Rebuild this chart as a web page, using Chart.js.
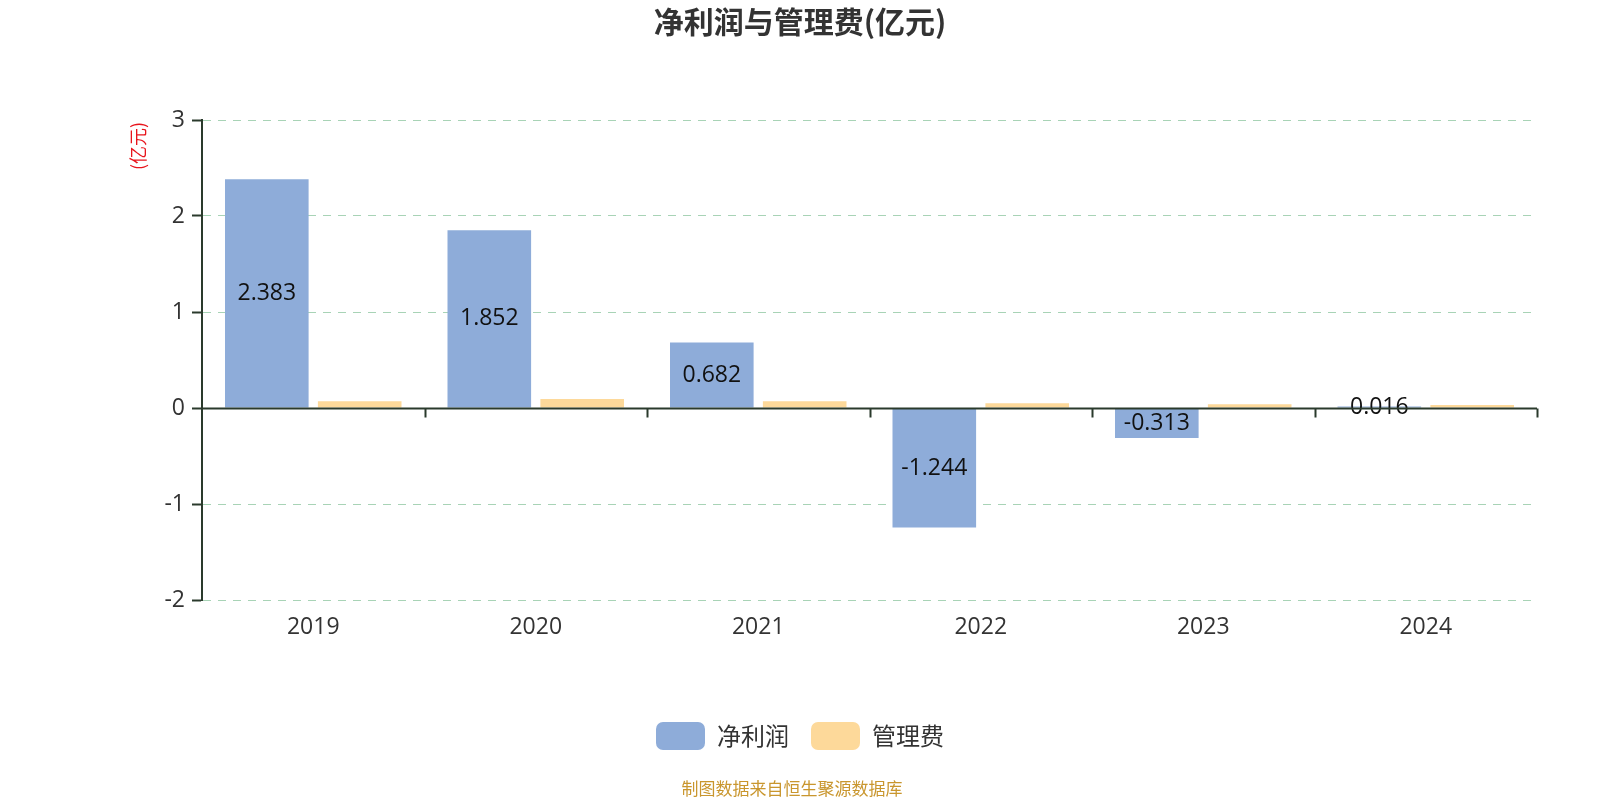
<!DOCTYPE html>
<html>
<head>
<meta charset="utf-8">
<script src="https://cdn.jsdelivr.net/npm/chart.js@4/dist/chart.umd.min.js"></script>
<style>
  html, body { margin: 0; padding: 0; background: #fff; }
  #wrap { width: 1600px; height: 800px; }
</style>
</head>
<body>
<div id="wrap"><canvas id="profitChart" width="1600" height="800"></canvas></div>
<script>
const years = ["2019", "2020", "2021", "2022", "2023", "2024"];
const netProfit = [2.383, 1.852, 0.682, -1.244, -0.313, 0.016];
const mgmtFee = [0.07, 0.095, 0.07, 0.05, 0.04, 0.03];
const yTicks = [-2, -1, 0, 1, 2, 3];

const FONT = '"Open Sans", "Noto Sans CJK SC", sans-serif';
const CJK = '"Noto Sans CJK SC", sans-serif';
const axisDark = '#2a3a2c';

// value labels in the middle of each net profit bar
const barLabels = {
    id: 'barLabels',
    afterDatasetsDraw(chart) {
        const ctx = chart.ctx;
        const meta = chart.getDatasetMeta(0);
        ctx.save();
        ctx.font = '23px ' + FONT;
        ctx.fillStyle = '#111';
        ctx.textAlign = 'center';
        ctx.textBaseline = 'middle';
        meta.data.forEach((bar, i) => {
            const mid = (bar.y + bar.base) / 2;
            ctx.fillText(netProfit[i].toString(), bar.x, mid);
        });
        ctx.restore();
    }
};

// x axis line sits on zero, plus unit label and source note
const extras = {
    id: 'extras',
    afterDatasetsDraw(chart) {
        const ctx = chart.ctx;
        const x = chart.scales.x;
        const y = chart.scales.y;
        const zero = Math.round(y.getPixelForValue(0)) + 0.5;
        ctx.save();
        ctx.strokeStyle = axisDark;
        ctx.lineWidth = 2;
        ctx.beginPath();
        ctx.moveTo(x.left, zero);
        ctx.lineTo(x.right, zero);
        const step = (x.right - x.left) / years.length;
        for (let i = 1; i <= years.length; i++) {
            const px = Math.round(x.left + step * i) + 0.5;
            ctx.moveTo(px, zero);
            ctx.lineTo(px, zero + 9);
        }
        ctx.stroke();
        ctx.restore();
    },
    afterDraw(chart) {
        const ctx = chart.ctx;
        ctx.save();
        ctx.fillStyle = '#e8141c';
        ctx.font = '18px ' + CJK;
        ctx.textAlign = 'center';
        ctx.textBaseline = 'middle';
        ctx.translate(138, 146);
        ctx.rotate(-Math.PI / 2);
        ctx.fillText('(亿元)', 0, 0);
        ctx.restore();

        ctx.save();
        ctx.fillStyle = '#c9962e';
        ctx.font = '17px ' + CJK;
        ctx.textAlign = 'center';
        ctx.textBaseline = 'middle';
        ctx.fillText('制图数据来自恒生聚源数据库', 792, 789);
        ctx.restore();
    }
};

new Chart(document.getElementById('profitChart').getContext('2d'), {
    type: 'bar',
    data: {
        labels: years,
        datasets: [{
            label: '净利润',
            data: netProfit,
            backgroundColor: '#8eacd9',
            borderWidth: 0,
            categoryPercentage: 0.835,
            barPercentage: 0.9
        }, {
            label: '管理费',
            data: mgmtFee,
            backgroundColor: '#fdd99a',
            borderWidth: 0,
            categoryPercentage: 0.835,
            barPercentage: 0.9
        }]
    },
    options: {
        responsive: false,
        animation: false,
        layout: { padding: { left: 0, right: 0, top: 0, bottom: 40 } },
        plugins: {
            title: {
                display: true,
                text: '净利润与管理费(亿元)',
                color: '#333',
                font: { family: CJK, size: 30, weight: 'bold' },
                padding: { top: 4, bottom: 80 }
            },
            legend: {
                position: 'bottom',
                labels: {
                    boxWidth: 49,
                    boxHeight: 28,
                    useBorderRadius: true,
                    borderRadius: 7,
                    padding: 22,
                    color: '#333',
                    font: { family: CJK, size: 24 }
                }
            },
            tooltip: { enabled: false }
        },
        scales: {
            x: {
                grid: { display: false },
                border: { display: false },
                ticks: { color: '#333', font: { family: FONT, size: 23 }, padding: 6 },
                afterFit(axis) { axis.height = 100; }
            },
            y: {
                min: -2,
                max: 3,
                afterBuildTicks(axis) { axis.ticks = yTicks.map(v => ({ value: v })); },
                grid: {
                    color: '#a8d3b6',
                    lineWidth: 1,
                    tickColor: axisDark,
                    tickLength: 10,
                    tickBorderDash: [],
                    tickWidth: 2
                },
                border: { display: true, color: axisDark, width: 2, dash: [8, 7] },
                ticks: { color: '#333', font: { family: FONT, size: 23 }, padding: 7 },
                afterFit(axis) { axis.width = 202; }
            },
            pad: {
                position: 'right',
                display: true,
                grid: { display: false },
                border: { display: false },
                ticks: { display: false },
                afterFit(axis) { axis.width = 63; }
            }
        }
    },
    plugins: [barLabels, extras]
});
</script>
</body>
</html>
